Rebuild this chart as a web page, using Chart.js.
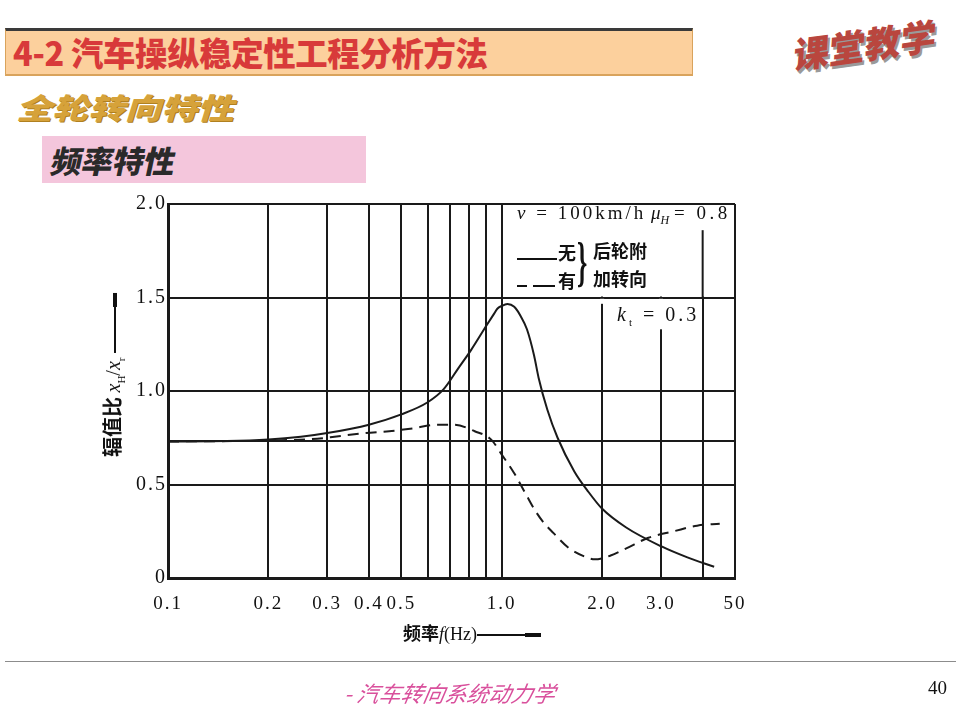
<!DOCTYPE html>
<html>
<head>
<meta charset="utf-8">
<script src="https://cdn.jsdelivr.net/npm/chart.js@4/dist/chart.umd.min.js"></script>
<style>
html,body{margin:0;padding:0;background:#fff;}
body{width:956px;height:717px;position:relative;overflow:hidden;font-family:"Noto Sans CJK SC","Noto Sans",sans-serif;}
.abs{position:absolute;white-space:nowrap;}
#hdr{left:5px;top:28px;width:686px;height:43px;background:#fcd09d;border-top:3px solid #3a3a3a;border-left:1px solid #d9a35c;border-right:1px solid #d9a35c;border-bottom:2px solid #d9a35c;}
#hdrText{left:13px;top:29px;font-size:33px;line-height:46px;font-weight:900;color:#d83a3a;transform:scaleX(0.98);transform-origin:left center;letter-spacing:-0.3px;}
#stamp{left:794px;top:27px;font-size:36px;font-weight:900;color:#b9463e;transform:rotate(-8deg) skewX(-12deg);transform-origin:left center;text-shadow:2px 3px 0 #9a9a9a;}
#sub{left:20px;top:85px;font-size:29px;font-weight:900;color:#d6a23a;transform:scaleX(1.25) skewX(-14deg);transform-origin:left center;text-shadow:1px 1px 0 #b08020;}
#pink{left:42px;top:136px;width:324px;height:47px;background:#f4c6dc;}
#pinkText{left:52px;top:136px;font-size:31px;line-height:47px;font-weight:900;color:#2a2a2a;transform:skewX(-12deg);transform-origin:left center;}
#footLine{left:5px;top:661px;width:951px;height:0;border-top:1px solid #8c8c8c;}
#footText{left:345px;top:676px;font-size:22px;color:#d9509c;font-style:italic;transform:skewX(-10deg);}
#pageNo{left:928px;top:677px;font-size:19px;font-family:"Liberation Serif",serif;color:#111;}
#cv{position:absolute;left:0;top:0;}
.lg{font-family:"Liberation Serif",serif;color:#111;}
.cj{font-family:"Noto Sans CJK SC",sans-serif;color:#111;font-weight:bold;}
#ytitle{left:112px;top:375px;transform:translate(-50%,-50%) rotate(-90deg);font-size:20px;}
#xtitle{left:403px;top:619px;font-size:18px;}
</style>
</head>
<body>
<div id="hdr" class="abs"></div>
<div id="hdrText" class="abs">4-2 汽车操纵稳定性工程分析方法</div>
<div id="stamp" class="abs">课堂教学</div>
<div id="sub" class="abs">全轮转向特性</div>
<div id="pink" class="abs"></div>
<div id="pinkText" class="abs">频率特性</div>

<canvas id="cv" width="956" height="717"></canvas>

<div id="ytitle" class="abs"><span class="cj">辐值比</span> <span class="lg"><i>x</i><sub style="font-size:11px">H</sub>/<i>x</i><sub style="font-size:11px">r</sub></span> <span style="display:inline-block;width:46px;border-top:2px solid #111;vertical-align:middle;"></span><span style="display:inline-block;width:14px;border-top:4px solid #111;vertical-align:middle;"></span></div>
<div id="xtitle" class="abs"><span class="cj">频率</span><span class="lg"><i>f</i>(Hz)</span><span style="display:inline-block;width:48px;border-top:2px solid #111;vertical-align:middle;"></span><span style="display:inline-block;width:16px;border-top:4px solid #111;vertical-align:middle;"></span></div>

<div class="abs lg" style="left:517px;top:202px;font-size:19px;"><span style="letter-spacing:3px"><i>v</i> = 100km/h</span> <i>μ<sub style="font-size:12px">H</sub></i> <span style="letter-spacing:3.5px">= 0.8</span></div>
<div class="abs" style="left:517px;top:258px;width:40px;border-top:2px solid #111;"></div>
<div class="abs cj" style="left:558px;top:239px;font-size:18px;">无</div>
<div class="abs" style="left:517px;top:285px;width:10px;border-top:2px solid #111;"></div>
<div class="abs" style="left:533px;top:285px;width:22px;border-top:2px solid #111;"></div>
<div class="abs cj" style="left:558px;top:267px;font-size:18px;">有</div>
<div class="abs lg" style="left:577px;top:232px;font-size:26px;transform:scaleY(2.1);transform-origin:left top;font-weight:bold;">}</div>
<div class="abs cj" style="left:593px;top:237px;font-size:18px;">后轮附</div>
<div class="abs cj" style="left:593px;top:265px;font-size:18px;">加转向</div>
<div class="abs lg" style="left:617px;top:303px;font-size:20px;letter-spacing:3px;"><i>k</i><sub style="font-size:11px">t</sub> = 0.3</div>

<div id="footLine" class="abs"></div>
<div id="footText" class="abs">- 汽车转向系统动力学</div>
<div id="pageNo" class="abs">40</div>

<script>
// ---- data ----
const xTickValues = [0.1, 0.2, 0.3, 0.4, 0.5, 0.6, 0.7, 0.8, 0.9, 1, 2, 3, 4, 5];
const xTickLabels = ['0.1', '0.2', '0.3', '0.4', '0.5', '', '', '', '', '1.0', '2.0', '3.0', '', '50'];
const yTickValues = [0, 0.5, 0.73, 1.0, 1.5, 2.0];
const yTickLabels = ['0', '0.5', '', '1.0', '1.5', '2.0'];

// 无后轮附加转向 (solid)
const freqNo = [0.1, 0.15, 0.2, 0.25, 0.3, 0.4, 0.5, 0.6, 0.67, 0.74, 0.81, 0.9, 0.95, 0.97, 1.0, 1.04, 1.09, 1.14, 1.19, 1.25, 1.29, 1.37, 1.47, 1.65, 1.82, 2.0, 2.36, 3.0, 3.6, 4.33];
const ampNo  = [0.73, 0.732, 0.74, 0.755, 0.775, 0.82, 0.875, 0.94, 1.01, 1.12, 1.22, 1.35, 1.415, 1.44, 1.455, 1.465, 1.45, 1.40, 1.33, 1.19, 1.07, 0.90, 0.75, 0.57, 0.46, 0.37, 0.27, 0.17, 0.11, 0.06];

// 有后轮附加转向 (dashed)
const freqYes = [0.1, 0.2, 0.28, 0.32, 0.39, 0.46, 0.54, 0.64, 0.72, 0.83, 0.93, 1.0, 1.09, 1.18, 1.25, 1.33, 1.43, 1.59, 1.8, 1.9, 2.12, 2.37, 2.75, 3.28, 3.85, 4.5];
const ampYes  = [0.73, 0.735, 0.745, 0.757, 0.775, 0.785, 0.80, 0.82, 0.82, 0.785, 0.74, 0.66, 0.56, 0.45, 0.37, 0.30, 0.24, 0.16, 0.11, 0.10, 0.12, 0.16, 0.215, 0.25, 0.28, 0.29];

// legend cell corner (f, amplitude)
const legendCorner = [1.0, 1.5];

const ink = '#1a1a1a';

const paperPlugin = {
  id: 'paper',
  beforeDraw(chart) { chart.ctx.letterSpacing = '2px'; },
  afterDraw(chart) { chart.ctx.letterSpacing = '0px'; },
  beforeDatasetsDraw(chart) {
    const { ctx, chartArea: a, scales: { x, y } } = chart;
    const x1 = x.getPixelForValue(legendCorner[0]);
    const y15 = y.getPixelForValue(legendCorner[1]);
    ctx.save();
    ctx.fillStyle = '#fff';
    ctx.fillRect(x1 + 1.5, a.top + 1, a.right - x1 - 3, y15 - a.top - 2);
    const x3 = x.getPixelForValue(3);
    ctx.fillRect(x3 - 2, y15 + 1.3, 4, y.getPixelForValue(1.33) - y15 - 1.3);
    const x2 = x.getPixelForValue(2);
    ctx.fillRect(x2 - 2, y15 + 1.3, 4, 5);
    const x4 = x.getPixelForValue(4);
    ctx.strokeStyle = ink;
    ctx.lineWidth = 2;
    ctx.beginPath();
    ctx.moveTo(x4, y.getPixelForValue(1.86));
    ctx.lineTo(x4, y15);
    ctx.stroke();
    ctx.restore();
  }
};

new Chart(document.getElementById('cv'), {
  type: 'line',
  data: {
    datasets: [
      {
        label: '无',
        data: freqNo.map((f, i) => ({ x: f, y: ampNo[i] })),
        borderColor: ink, borderWidth: 2, pointRadius: 0,
        cubicInterpolationMode: 'monotone', fill: false
      },
      {
        label: '有',
        data: freqYes.map((f, i) => ({ x: f, y: ampYes[i] })),
        borderColor: ink, borderWidth: 2, pointRadius: 0, borderDash: [11, 7],
        cubicInterpolationMode: 'monotone', fill: false
      }
    ]
  },
  options: {
    responsive: false,
    animation: false,
    layout: { padding: { left: 0, top: 204, right: 221, bottom: 0 } },
    plugins: { legend: { display: false }, tooltip: { enabled: false } },
    scales: {
      x: {
        type: 'logarithmic', min: 0.1, max: 5,
        afterBuildTicks: s => { s.ticks = xTickValues.map(v => ({ value: v })); },
        afterFit: s => { s.height = 139; },
        ticks: {
          autoSkip: false, maxRotation: 0, padding: 15, color: '#111',
          font: { family: 'Liberation Serif', size: 19 },
          callback: (v, i) => xTickLabels[i]
        },
        grid: { color: ink, lineWidth: 2, drawTicks: false },
        border: { color: ink, width: 3 }
      },
      y: {
        type: 'linear', min: 0, max: 2,
        afterBuildTicks: s => { s.ticks = yTickValues.map(v => ({ value: v })); },
        afterFit: s => { s.width = 168; },
        ticks: {
          padding: 1, color: '#111',
          font: { family: 'Liberation Serif', size: 20 },
          callback: (v, i) => yTickLabels[i]
        },
        grid: { color: ink, lineWidth: 2, drawTicks: false },
        border: { color: ink, width: 3 }
      }
    }
  },
  plugins: [paperPlugin]
});
</script>
</body>
</html>
